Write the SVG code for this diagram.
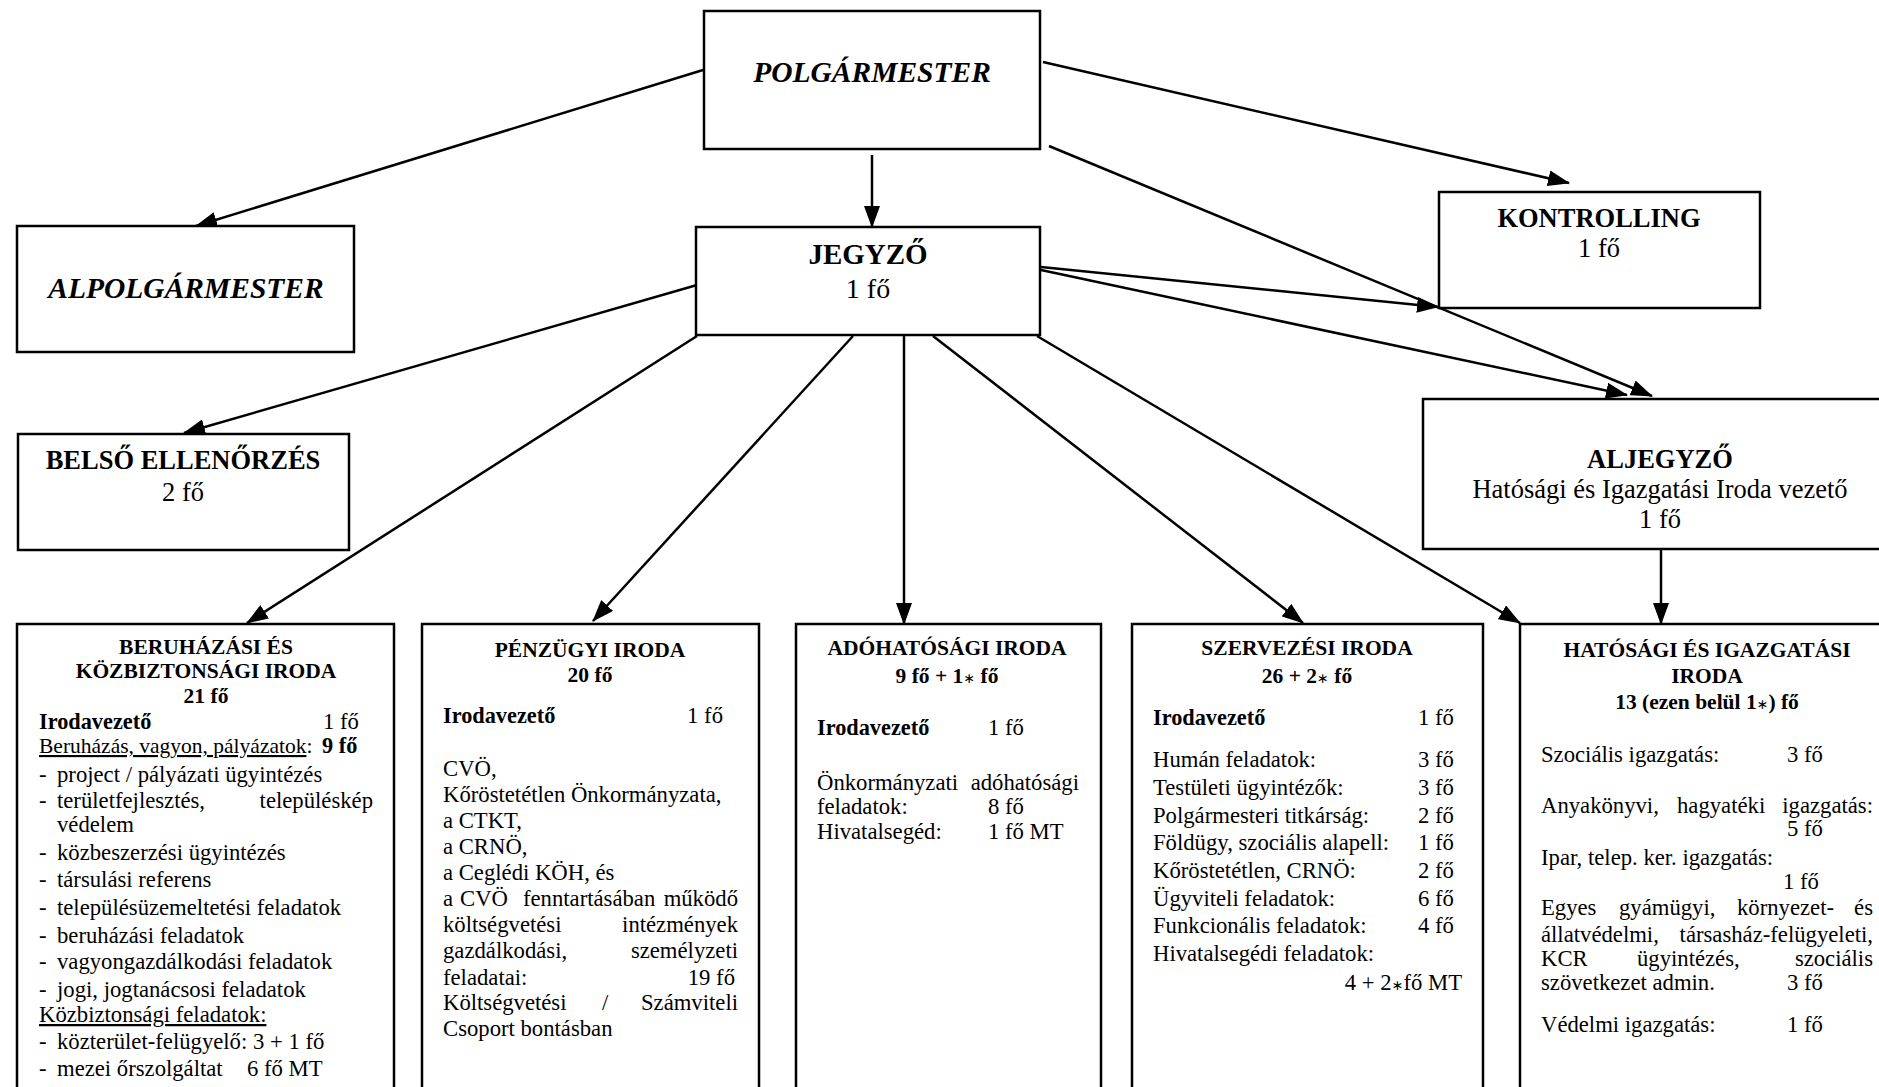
<svg xmlns="http://www.w3.org/2000/svg" width="1879" height="1087" viewBox="0 0 1879 1087">
<style>
.box{fill:#fff;stroke:#000;stroke-width:2.5}
.ln{fill:none;stroke:#000;stroke-width:2.5;marker-end:url(#ah)}
text{font-family:"Liberation Serif","Times New Roman",serif;fill:#000}
.top{font-size:26.5px;text-anchor:middle}
.topb{font-size:26.5px;font-weight:bold;text-anchor:middle}
.topi{font-size:29.5px;font-weight:bold;font-style:italic;text-anchor:middle}
.big{font-size:29px}
.h{font-size:21.5px;font-weight:bold;text-anchor:middle}
.b{font-size:22.7px}
.bb{font-size:22.3px;font-weight:bold}
.e{text-anchor:end}
.u{text-decoration:underline}
.ast{font-family:"DejaVu Sans",sans-serif;font-weight:normal;font-size:14px}
</style>
<defs>
<marker id="ah" markerUnits="userSpaceOnUse" markerWidth="22" markerHeight="16" viewBox="0 0 22 16" refX="21" refY="8" orient="auto">
<path d="M0,0 L22,8 L0,16 Z" fill="#000"/>
</marker>
</defs>
<rect width="1879" height="1087" fill="#fff"/>
<g id="connectors">
<line class="ln" x1="703" y1="70" x2="196" y2="226"/>
<line class="ln" x1="872" y1="155" x2="872" y2="227"/>
<line class="ln" x1="1043" y1="62" x2="1569" y2="183"/>
<line class="ln" x1="1049" y1="146" x2="1652" y2="396"/>
<line class="ln" x1="1041" y1="267" x2="1438" y2="307"/>
<line class="ln" x1="1041" y1="270" x2="1627" y2="395"/>
<line class="ln" x1="697" y1="285" x2="184" y2="433"/>
<line class="ln" x1="697" y1="336" x2="247" y2="623"/>
<line class="ln" x1="853" y1="336" x2="593" y2="621"/>
<line class="ln" x1="904" y1="336" x2="904" y2="624"/>
<line class="ln" x1="933" y1="336" x2="1303" y2="623"/>
<line class="ln" x1="1037" y1="336" x2="1520" y2="623"/>
<line class="ln" x1="1661" y1="549" x2="1661" y2="624"/>
</g>
<g id="polgarmester">
<rect class="box" x="704" y="11" width="336" height="138"/>
<text class="topi" x="872" y="82">POLGÁRMESTER</text>
</g>
<g id="alpolgarmester">
<rect class="box" x="17" y="226" width="337" height="126"/>
<text class="topi" x="186" y="298">ALPOLGÁRMESTER</text>
</g>
<g id="jegyzo">
<rect class="box" x="696" y="227" width="344" height="108"/>
<text class="topb big" x="868" y="264">JEGYZŐ</text>
<text class="top" x="868" y="298" style="font-size:28px">1 fő</text>
</g>
<g id="kontrolling">
<rect class="box" x="1439" y="192" width="321" height="116"/>
<text class="topb" x="1599" y="227">KONTROLLING</text>
<text class="top" x="1599" y="257">1 fő</text>
</g>
<g id="belso-ellenorzes">
<rect class="box" x="18" y="434" width="331" height="116"/>
<text class="topb" x="183" y="469">BELSŐ ELLENŐRZÉS</text>
<text class="top" x="183" y="501">2 fő</text>
</g>
<g id="aljegyzo">
<rect class="box" x="1423" y="399" width="480" height="150"/>
<text class="topb" x="1660" y="468">ALJEGYZŐ</text>
<text class="top" x="1660" y="498">Hatósági és Igazgatási Iroda vezető</text>
<text class="top" x="1660" y="528">1 fő</text>
</g>
<g id="beruhazasi">
<rect class="box" x="17" y="624" width="377" height="480"/>
<text class="h" x="206" y="654">BERUHÁZÁSI ÉS</text>
<text class="h" x="206" y="678">KÖZBIZTONSÁGI IRODA</text>
<text class="h" x="206" y="703">21 fő</text>
<text class="bb" x="39" y="729">Irodavezető</text>
<text class="b" x="323" y="729">1 fő</text>
<text class="b" x="39" y="753" style="font-size:21.5px"><tspan class="u">Beruházás, vagyon, pályázatok</tspan>:</text>
<text class="bb" x="322" y="753">9 fő</text>
<text class="b" x="39" y="782">-</text><text class="b" x="57" y="782">project / pályázati ügyintézés</text>
<text class="b" x="39" y="808">-</text><text class="b" x="57" y="808">területfejlesztés,</text><text class="b e" x="373" y="808">településkép</text>
<text class="b" x="57" y="832">védelem</text>
<text class="b" x="39" y="860">-</text><text class="b" x="57" y="860">közbeszerzési ügyintézés</text>
<text class="b" x="39" y="887">-</text><text class="b" x="57" y="887">társulási referens</text>
<text class="b" x="39" y="915">-</text><text class="b" x="57" y="915">településüzemeltetési feladatok</text>
<text class="b" x="39" y="943">-</text><text class="b" x="57" y="943">beruházási feladatok</text>
<text class="b" x="39" y="969">-</text><text class="b" x="57" y="969">vagyongazdálkodási feladatok</text>
<text class="b" x="39" y="997">-</text><text class="b" x="57" y="997">jogi, jogtanácsosi feladatok</text>
<text class="b u" x="39" y="1022">Közbiztonsági feladatok:</text>
<text class="b" x="39" y="1049">-</text><text class="b" x="57" y="1049">közterület-felügyelő: 3 + 1 fő</text>
<text class="b" x="39" y="1076">-</text><text class="b" x="57" y="1076">mezei őrszolgáltat</text><text class="b" x="247" y="1076">6 fő MT</text>
</g>
<g id="penzugyi">
<rect class="box" x="422" y="624" width="337" height="480"/>
<text class="h" x="590" y="657">PÉNZÜGYI IRODA</text>
<text class="h" x="590" y="682">20 fő</text>
<text class="bb" x="443" y="723">Irodavezető</text>
<text class="b e" x="723" y="723">1 fő</text>
<text class="b" x="443" y="776">CVÖ,</text>
<text class="b" x="443" y="802">Kőröstetétlen Önkormányzata,</text>
<text class="b" x="443" y="828">a CTKT,</text>
<text class="b" x="443" y="854">a CRNÖ,</text>
<text class="b" x="443" y="880">a Ceglédi KÖH, és</text>
<text class="b" x="443" y="906">a</text><text class="b" x="460" y="906">CVÖ</text><text class="b" x="523" y="906">fenntartásában</text><text class="b e" x="738" y="906">működő</text>
<text class="b" x="443" y="932">költségvetési</text><text class="b e" x="738" y="932">intézmények</text>
<text class="b" x="443" y="958">gazdálkodási,</text><text class="b e" x="738" y="958">személyzeti</text>
<text class="b" x="443" y="985">feladatai:</text><text class="b e" x="735" y="985">19 fő</text>
<text class="b" x="443" y="1010">Költségvetési</text><text class="b" x="602" y="1010">/</text><text class="b e" x="738" y="1010">Számviteli</text>
<text class="b" x="443" y="1036">Csoport bontásban</text>
</g>
<g id="adohatosagi">
<rect class="box" x="796" y="624" width="305" height="480"/>
<text class="h" x="947" y="655">ADÓHATÓSÁGI IRODA</text>
<text class="h" x="947" y="683">9 fő + 1<tspan class="ast">∗</tspan> fő</text>
<text class="bb" x="817" y="735">Irodavezető</text>
<text class="b" x="988" y="735">1 fő</text>
<text class="b" x="817" y="790">Önkormányzati</text><text class="b e" x="1079" y="790">adóhatósági</text>
<text class="b" x="817" y="814">feladatok:</text><text class="b" x="988" y="814">8 fő</text>
<text class="b" x="817" y="839">Hivatalsegéd:</text><text class="b" x="988" y="839">1 fő MT</text>
</g>
<g id="szervezesi">
<rect class="box" x="1132" y="624" width="351" height="480"/>
<text class="h" x="1307" y="655">SZERVEZÉSI IRODA</text>
<text class="h" x="1307" y="683">26 + 2<tspan class="ast">∗</tspan> fő</text>
<text class="bb" x="1153" y="725">Irodavezető</text><text class="b" x="1418" y="725">1 fő</text>
<text class="b" x="1153" y="767">Humán feladatok:</text><text class="b" x="1418" y="767">3 fő</text>
<text class="b" x="1153" y="795">Testületi ügyintézők:</text><text class="b" x="1418" y="795">3 fő</text>
<text class="b" x="1153" y="823">Polgármesteri titkárság:</text><text class="b" x="1418" y="823">2 fő</text>
<text class="b" x="1153" y="850">Földügy, szociális alapell:</text><text class="b" x="1418" y="850">1 fő</text>
<text class="b" x="1153" y="878">Kőröstetétlen, CRNÖ:</text><text class="b" x="1418" y="878">2 fő</text>
<text class="b" x="1153" y="906">Ügyviteli feladatok:</text><text class="b" x="1418" y="906">6 fő</text>
<text class="b" x="1153" y="933">Funkcionális feladatok:</text><text class="b" x="1418" y="933">4 fő</text>
<text class="b" x="1153" y="961">Hivatalsegédi feladatok:</text>
<text class="b e" x="1462" y="990">4 + 2<tspan class="ast">∗</tspan>fő MT</text>
</g>
<g id="hatosagi">
<rect class="box" x="1520" y="624" width="380" height="480"/>
<text class="h" x="1707" y="657">HATÓSÁGI ÉS IGAZGATÁSI</text>
<text class="h" x="1707" y="683">IRODA</text>
<text class="h" x="1707" y="709">13 (ezen belül 1<tspan class="ast">∗</tspan>) fő</text>
<text class="b" x="1541" y="762">Szociális igazgatás:</text><text class="b" x="1787" y="762">3 fő</text>
<text class="b" x="1541" y="813">Anyakönyvi,</text><text class="b" x="1677" y="813">hagyatéki</text><text class="b e" x="1873" y="813">igazgatás:</text>
<text class="b" x="1787" y="836">5 fő</text>
<text class="b" x="1541" y="865">Ipar, telep. ker. igazgatás:</text>
<text class="b" x="1783" y="889">1 fő</text>
<text class="b" x="1541" y="915">Egyes</text><text class="b" x="1619" y="915">gyámügyi,</text><text class="b" x="1737" y="915">környezet-</text><text class="b e" x="1873" y="915">és</text>
<text class="b" x="1541" y="942">állatvédelmi,</text><text class="b e" x="1873" y="942">társasház-felügyeleti,</text>
<text class="b" x="1541" y="966">KCR</text><text class="b" x="1637" y="966">ügyintézés,</text><text class="b e" x="1873" y="966">szociális</text>
<text class="b" x="1541" y="990">szövetkezet admin.</text><text class="b" x="1787" y="990">3 fő</text>
<text class="b" x="1541" y="1032">Védelmi igazgatás:</text><text class="b" x="1787" y="1032">1 fő</text>
</g>
</svg>
